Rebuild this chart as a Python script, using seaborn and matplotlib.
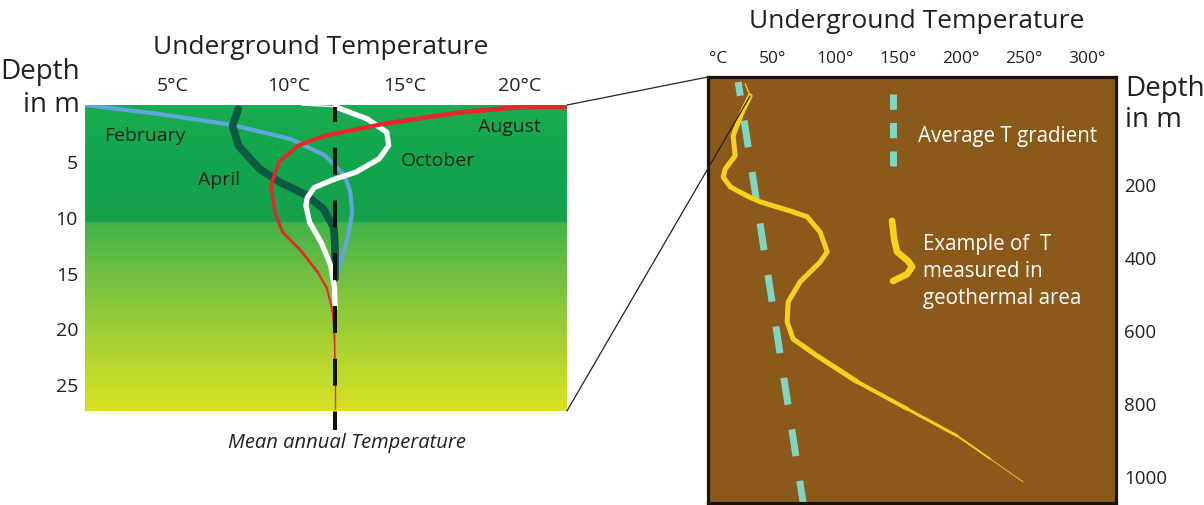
import numpy as np
import matplotlib
matplotlib.use('Agg')
import matplotlib.pyplot as plt
import seaborn as sns
from matplotlib.patches import ConnectionPatch

# --- left panel: shallow temperature profiles (temperature in °C, depth in m)
feb_t = [1.19, 4.39, 7.57, 10.07, 11.57, 12.41, 12.66, 12.74, 12.57, 12.24, 12.0]
feb_d = [0.0, 0.8, 1.79, 3.04, 4.52, 6.31, 7.8, 9.58, 11.67, 14.05, 15.54]

apr_t = [7.82, 7.57, 7.82, 8.73, 9.6, 10.7, 11.5, 11.95, 12.0, 12.0]
apr_d = [0.36, 1.85, 3.63, 5.71, 6.9, 8.0, 9.3, 11.0, 12.6, 15.5]

oct_top_t = [10.57, 12.0]
oct_top_d = [0.0, 0.15]
oct_t = [12.0, 13.4, 14.24, 14.32, 13.91, 12.91, 11.9, 11.1, 10.8, 10.74, 10.9, 11.4, 11.82, 11.98, 12.0]
oct_d = [0.15, 1.25, 2.44, 3.63, 4.82, 6.01, 6.7, 7.4, 8.3, 9.0, 10.5, 12.3, 14.4, 16.4, 18.2]

aug_t = [22.05, 19.92, 17.41, 14.07, 11.57, 10.4, 9.57, 9.23, 9.4, 9.73, 10.57,
         11.24, 11.65, 11.9, 11.98, 12.0, 12.0]
aug_d = [0.12, 0.2, 0.65, 1.7, 2.74, 3.63, 5.12, 7.2, 9.58, 11.37, 13.15,
         14.94, 16.4, 18.5, 20.9, 23.3, 27.2]

mean_t = [12.0, 12.0]
mean_d = [0.2, 29.1]

month_names = ['February', 'April', 'October', 'August']
month_label_t = [3.79, 6.99, 16.43, 19.55]
month_label_d = [2.68, 6.6, 4.9, 1.86]

left_xticks = [5, 10, 15, 20]
left_xlabels = ['5°C', '10°C', '15°C', '20°C']
left_yticks = [5, 10, 15, 20, 25]

# --- right panel: deep profiles (temperature in °, depth in m)
avg_t = [23, 74.6]
avg_d = [-79, 1074]

geo_t = [28.6, 32.5, 26.2, 19.0, 20.6, 12.7, 11.1, 16.7, 30.2, 40.5, 64.3, 77.8, 88.1,
         93.7, 88.1, 72.2, 62.7, 61.9, 66.7, 85.7, 117.5, 157.1, 196.8, 223.0, 249.2]
geo_d = [-74, -41, 3, 68, 123, 159, 181, 208, 233, 249, 274, 290, 332,
         386, 414, 468, 523, 578, 625, 671, 742, 816, 890, 953, 1016]

key_avg_t = [146, 146]
key_avg_d = [-47, 151]
key_geo_t = [145.2, 146.8, 149.2, 157.9, 161.1, 157.1, 146.0]
key_geo_d = [301, 351, 386, 411, 427, 447, 466]

right_xticks = [0, 50, 100, 150, 200, 250, 300]
right_xlabels = ['°C', '50°', '100°', '150°', '200°', '250°', '300°']
right_yticks = [200, 400, 600, 800, 1000]

sns.set_theme(style='white')
plt.rcParams['font.family'] = ['Open Sans', 'DejaVu Sans']
plt.rcParams['lines.solid_joinstyle'] = 'round'
plt.rcParams['lines.solid_capstyle'] = 'round'
txt = '#231f20'

fig = plt.figure(figsize=(12.04, 5.06), dpi=100)
ax1 = fig.add_axes([0.0706, 0.1858, 0.4003, 0.6047])
ax2 = fig.add_axes([0.5880, 0.0040, 0.3389, 0.8419])

# ---------- left panel
xmin, xmax, dmax = 1.19, 22.03, 27.4
stops_d = [0, 6, 10.5, 10.51, 18, 27.4]
stops_c = np.array([[26, 172, 80], [16, 165, 76], [26, 160, 78],
                    [66, 178, 72], [140, 200, 60], [218, 226, 34]]) / 255
rows = np.linspace(0, dmax, 300)
grad = np.stack([np.interp(rows, stops_d, stops_c[:, k]) for k in range(3)], axis=1)
ax1.imshow(grad[:, None, :], extent=[xmin, xmax, dmax, 0], aspect='auto', zorder=0)

sns.lineplot(x=feb_t, y=feb_d, sort=False, estimator=None, color='#5ea6dd', lw=3, ax=ax1, zorder=2)
sns.lineplot(x=apr_t, y=apr_d, sort=False, estimator=None, color='#0c5a44', lw=5.5, ax=ax1, zorder=3)
sns.lineplot(x=oct_top_t, y=oct_top_d, sort=False, estimator=None, color='white', lw=1, ax=ax1, zorder=4)
sns.lineplot(x=oct_t, y=oct_d, sort=False, estimator=None, color='white', lw=3.8, ax=ax1, zorder=4)
# August curve gets thinner with depth
n = len(aug_t) - 1
for i in range(n):
    w = 3.6 - 2.6 * i / (n - 1)
    ax1.plot(aug_t[i:i + 2], aug_d[i:i + 2], color='#e8262b', lw=w, zorder=5)
ax1.plot(mean_t, mean_d, color='#111111', lw=2.9, linestyle=(3.0, (6.7, 6.4)),
         dash_capstyle='butt', zorder=6, clip_on=False)

for name, t, d in zip(month_names, month_label_t, month_label_d):
    ax1.text(t, d, name, ha='center', va='center', fontsize=14, color=txt, zorder=7)

ax1.set_xlim(xmin, xmax)
ax1.set_ylim(dmax, 0)
ax1.xaxis.tick_top()
ax1.set_xticks(left_xticks)
ax1.set_xticklabels(left_xlabels)
ax1.set_yticks(left_yticks)
ax1.tick_params(axis='x', length=0, pad=8, labelsize=14, labelcolor=txt)
ax1.tick_params(axis='y', length=0, pad=5, labelsize=14, labelcolor=txt)
ax1.set_xlabel('')
ax1.set_ylabel('')
for s in ax1.spines.values():
    s.set_visible(False)

# ---------- right panel
ax2.set_facecolor('#8b5a1b')
ax2.plot(avg_t, avg_d, color='#7fd6c4', lw=5, linestyle=(1.9, (3.9, 3.6)),
         dash_capstyle='butt', zorder=2)
ax2.plot(key_avg_t, key_avg_d, color='#7fd6c4', lw=5, linestyle=(0, (2.2, 1.9)),
         dash_capstyle='butt', zorder=2)

ax2.plot(geo_t[:2], geo_d[:2], color='#f6d21e', lw=1, zorder=3)
sns.lineplot(x=geo_t[1:21], y=geo_d[1:21], sort=False, estimator=None, color='#f6d21e',
             lw=3.6, ax=ax2, zorder=3)
n = len(geo_t) - 21
for i in range(n):
    w = 3.6 - 3.0 * (i + 1) / n
    ax2.plot(geo_t[20 + i:22 + i], geo_d[20 + i:22 + i], color='#f6d21e', lw=w, zorder=3)
sns.lineplot(x=key_geo_t, y=key_geo_d, sort=False, estimator=None, color='#f6d21e',
             lw=4.8, ax=ax2, zorder=3)

ax2.text(165.9, 68.5, 'Average T gradient', color='white', fontsize=14.8,
         ha='left', va='center')
ax2.text(169.8, 437, 'Example of  T\nmeasured in\ngeothermal area', color='white',
         fontsize=14.8, ha='left', va='center', linespacing=1.4)

ax2.set_xlim(-1, 323)
ax2.set_ylim(1074, -93)
ax2.xaxis.tick_top()
ax2.yaxis.tick_right()
ax2.set_xticks(right_xticks)
ax2.set_xticklabels(right_xlabels)
ax2.get_xticklabels()[0].set_horizontalalignment('left')
ax2.set_yticks(right_yticks)
ax2.tick_params(axis='x', length=0, pad=8, labelsize=12.5, labelcolor=txt)
ax2.tick_params(axis='y', length=0, pad=6, labelsize=13.5, labelcolor=txt)
ax2.set_xlabel('')
ax2.set_ylabel('')
for s in ax2.spines.values():
    s.set_visible(True)
    s.set_color('#1a1410')
    s.set_linewidth(2.3)

# zoom connectors between the two panels
for xyA, xyB, cB in [((1, 1), (0, 1), 'axes fraction'), ((1, 0), (geo_t[1], geo_d[1]), 'data')]:
    con = ConnectionPatch(xyA=xyA, coordsA='axes fraction', axesA=ax1,
                          xyB=xyB, coordsB=cB, axesB=ax2, color='#222222', lw=0.9)
    fig.add_artist(con)

# titles and axis captions
fig.text(321 / 1204, 1 - 47 / 506, 'Underground Temperature', fontsize=19,
         color=txt, ha='center', va='center')
fig.text(917 / 1204, 1 - 21 / 506, 'Underground Temperature', fontsize=19,
         color=txt, ha='center', va='center')
fig.text(80 / 1204, 1 - 72 / 506, 'Depth', fontsize=20, color=txt, ha='right', va='center')
fig.text(80 / 1204, 1 - 105 / 506, 'in m', fontsize=20, color=txt, ha='right', va='center')
fig.text(1125 / 1204, 1 - 89 / 506, 'Depth', fontsize=20, color=txt, ha='left', va='center')
fig.text(1125 / 1204, 1 - 120 / 506, 'in m', fontsize=20, color=txt, ha='left', va='center')
fig.text(347 / 1204, 1 - 443 / 506, 'Mean annual Temperature', fontsize=14.5,
         style='italic', color=txt, ha='center', va='center')

fig.savefig('out.png', dpi=100, facecolor='white')
